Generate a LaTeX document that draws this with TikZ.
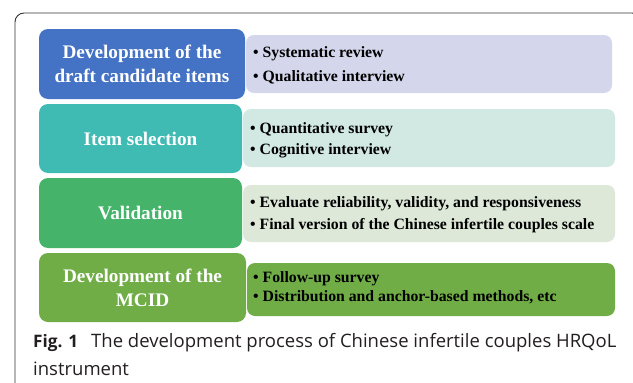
\documentclass[tikz,border=0pt]{standalone}
\usepackage{fontspec}
\setmainfont{Liberation Serif}
\newfontfamily\capfont{Open Sans}
\definecolor{cblue}{HTML}{4472C4}
\definecolor{cteal}{HTML}{3FBBB4}
\definecolor{cgreen}{HTML}{45B46A}
\definecolor{colive}{HTML}{70AD47}
\definecolor{clav}{HTML}{D4D7EB}
\definecolor{cmint}{HTML}{D2E8E3}
\definecolor{clgreen}{HTML}{DDE8D8}
\definecolor{cframe}{HTML}{333333}
\definecolor{ccap}{HTML}{231F20}
\tikzset{
  headbox/.style={rounded corners=9pt, inner sep=0pt, align=center, text=white,
    font=\fontsize{19.2}{24}\selectfont\bfseries},
  detbox/.style={rounded corners=8pt, inner sep=0pt},
  bul/.style={anchor=base west, inner sep=0pt, font=\fontsize{15.75}{18}\selectfont\bfseries, text=black},
  captxt/.style={anchor=base west, inner sep=0pt, text=ccap, font=\capfont\fontsize{18.5}{20}\selectfont}
}
\begin{document}
\begin{tikzpicture}[x=1pt,y=-1pt]
\useasboundingbox (0,0) rectangle (633,383);
\begin{scope}
\clip (0,0) rectangle (633,383);
\draw[cframe, line width=0.9pt, rounded corners=9pt] (15,400) -- (15,13) -- (641,13) -- (641,40);
\end{scope}
% right detail boxes
\node[detbox, fill=clav, minimum width=366pt, minimum height=58pt] (r1) at (429,64) {};
\node[detbox, fill=cmint, minimum width=372pt, minimum height=58pt] (r2) at (429,138) {};
\node[detbox, fill=clgreen, minimum width=372pt, minimum height=57pt] (r3) at (429,213.5) {};
\node[detbox, fill=colive, minimum width=368pt, minimum height=53pt] (r4) at (431,289.5) {};
% left header boxes
\node[headbox, fill=cblue, minimum width=206pt, minimum height=70pt] (h1) at (142,64) {Development of the\\draft candidate items};
\node[headbox, fill=cteal, minimum width=203pt, minimum height=69pt] (h2) at (140.5,138.5) {Item selection};
\node[headbox, fill=cgreen, minimum width=203pt, minimum height=70pt] (h3) at (140.5,213) {Validation};
\node[headbox, fill=colive, minimum width=207pt, minimum height=69pt] (h4) at (142.5,287.5) {Development of the\\MCID};
% bullet texts
\node[bul] (t11) at (253,57) {• Systematic review};
\node[bul] (t12) at (253,81) {• Qualitative interview};
\node[bul] (t21) at (250,133) {• Quantitative survey};
\node[bul] (t22) at (250,154) {• Cognitive interview};
\node[bul] (t31) at (250,207) {• Evaluate reliability, validity, and responsiveness};
\node[bul] (t32) at (250,229) {• Final version of the Chinese infertile couples scale};
\node[bul] (t41) at (253,282) {• Follow-up survey};
\node[bul] (t42) at (253,301) {• Distribution and anchor-based methods, etc};
% caption
\node[captxt, font=\capfont\fontsize{17.2}{20}\selectfont\bfseries] (fig) at (33,347) {Fig. 1};
\node[captxt] (cap1) at (91,347) {The development process of Chinese infertile couples HRQoL};
\node[captxt] (cap2) at (33,375) {instrument};
\end{tikzpicture}
\end{document}
